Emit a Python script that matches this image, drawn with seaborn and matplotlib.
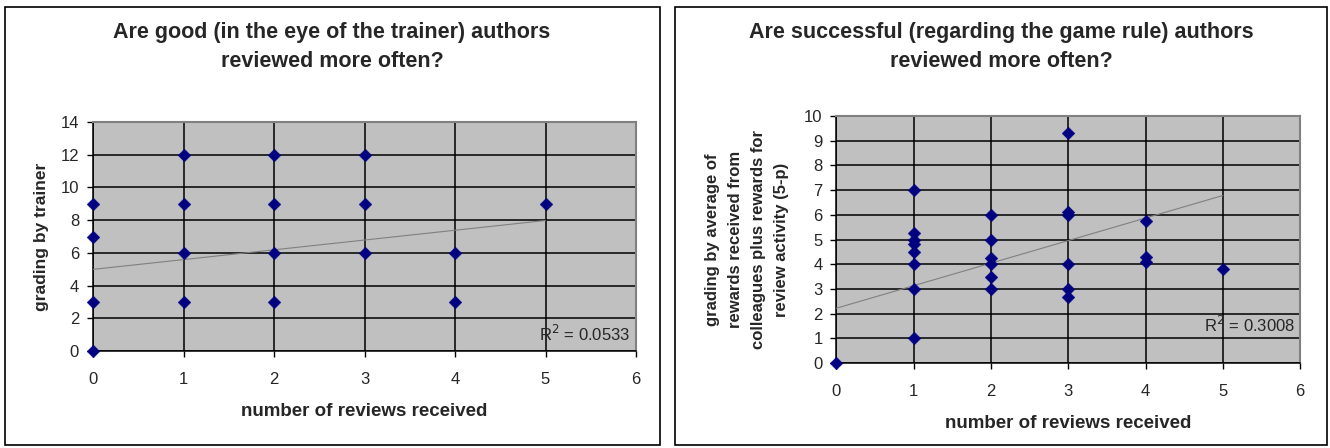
import matplotlib
matplotlib.use("Agg")
import matplotlib.pyplot as plt
import matplotlib.patches as mpatches
import seaborn as sns
import pandas as pd

# ---- data ----
left_reviews = [0, 0, 0, 0, 1, 1, 1, 1, 2, 2, 2, 2, 3, 3, 3, 4, 4, 5]
left_grading = [0, 3, 7, 9, 3, 6, 9, 12, 3, 6, 9, 12, 6, 9, 12, 3, 6, 9]
left_trend_x = [0, 5]
left_trend_y = [4.99, 7.98]
left_r2 = "0.0533"

right_reviews = [0,
                 1, 1, 1, 1, 1, 1, 1, 1,
                 2, 2, 2, 2, 2, 2,
                 3, 3, 3, 3, 3, 3,
                 4, 4, 4,
                 5]
right_grading = [0,
                 7, 5.25, 5, 4.8, 4.5, 4, 3, 1,
                 6, 5, 4.25, 4, 3.5, 3,
                 9.33, 6.12, 6, 4, 3, 2.67,
                 5.75, 4.28, 4.1,
                 3.8]
right_trend_x = [0, 5]
right_trend_y = [2.22, 6.78]
right_r2 = "0.3008"

left_title = "Are good (in the eye of the trainer) authors\nreviewed more often?"
right_title = "Are successful (regarding the game rule) authors\nreviewed more often?"
x_label = "number of reviews received"
left_ylabel = "grading by trainer"
right_ylabel = "grading by average of\nrewards received from\ncolleagues plus rewards for\nreview activity (5-p)"

x_ticks = [0, 1, 2, 3, 4, 5, 6]
left_yticks = [0, 2, 4, 6, 8, 10, 12, 14]
right_yticks = [0, 1, 2, 3, 4, 5, 6, 7, 8, 9, 10]

sns.set_theme(style="white")
plt.rcParams['font.family'] = ['Liberation Sans', 'DejaVu Sans']

fig = plt.figure(figsize=(13.3, 4.48), dpi=100)
W, H = 1330, 448

def fx(px):
    return px / W

def fy(py):
    return 1 - py / H

# frames around each chart
for (x0, x1) in [(5, 660), (675, 1327)]:
    fig.patches.append(mpatches.Rectangle((fx(x0), fy(445)), fx(x1 - x0), (445 - 7) / H,
                                          transform=fig.transFigure, fill=False,
                                          edgecolor="black", linewidth=1.2))

def make_panel(rect, xs, ys, tx, ty, yticks, ymax, title, title_cx, ylabel, ylabel_x,
               ylabel_size, ylabel_ls, xlabel_y, r2, r2_xy):
    ax = fig.add_axes(rect)
    ax.set_facecolor("#C0C0C0")
    df = pd.DataFrame({"x": xs, "y": ys})
    tdf = pd.DataFrame({"x": tx, "y": ty})
    sns.lineplot(data=tdf, x="x", y="y", ax=ax, color="#808080", linewidth=0.8, zorder=3)
    sns.scatterplot(data=df, x="x", y="y", ax=ax, marker="D", s=42, color="#000080",
                    edgecolor="#000080", linewidth=0.3, zorder=4, clip_on=False)
    ax.set_xlim(0, 6)
    ax.set_ylim(0, ymax)
    ax.set_xticks(x_ticks)
    ax.set_yticks(yticks)
    ax.grid(True, color="black", linewidth=1.1)
    ax.set_axisbelow(True)
    for s in ["top", "right"]:
        ax.spines[s].set_color("#808080")
        ax.spines[s].set_linewidth(1.5)
    for s in ["left", "bottom"]:
        ax.spines[s].set_color("black")
        ax.spines[s].set_linewidth(1.1)
    ax.tick_params(axis="both", which="major", direction="out", length=4, width=1,
                   color="black", labelsize=12, left=True, bottom=True)
    ax.tick_params(axis="x", pad=11)
    ax.tick_params(axis="y", pad=6)
    ax.set_xlabel("")
    ax.set_ylabel("")
    fig.text(title_cx, fy(47), title, ha="center", va="center", fontsize=15.5,
             fontweight="bold", linespacing=1.55)
    ax_cx = rect[0] + rect[2] / 2
    fig.text(ax_cx, fy(xlabel_y), x_label, ha="center", va="center", fontsize=13.5,
             fontweight="bold")
    fig.text(ylabel_x, rect[1] + rect[3] / 2, ylabel, ha="center", va="center",
             rotation=90, fontsize=ylabel_size, fontweight="bold", linespacing=ylabel_ls)
    ax.text(r2_xy[0], r2_xy[1], "R$^2$ = " + r2, transform=ax.transAxes,
            ha="right", va="center", fontsize=12)
    return ax

make_panel([fx(93), fy(351), fx(636 - 93), (351 - 122) / H],
           left_reviews, left_grading, left_trend_x, left_trend_y,
           left_yticks, 14, left_title, fx(332), left_ylabel, fx(42), 12.5, 1.3, 412,
           left_r2, (0.99, 0.074))

make_panel([fx(836.5), fy(363), fx(1300 - 836.5), (363 - 116) / H],
           right_reviews, right_grading, right_trend_x, right_trend_y,
           right_yticks, 10, right_title, fx(1001), right_ylabel, fx(747), 12, 1.68, 423,
           right_r2, (0.99, 0.154))

fig.savefig("out.png", dpi=100)
